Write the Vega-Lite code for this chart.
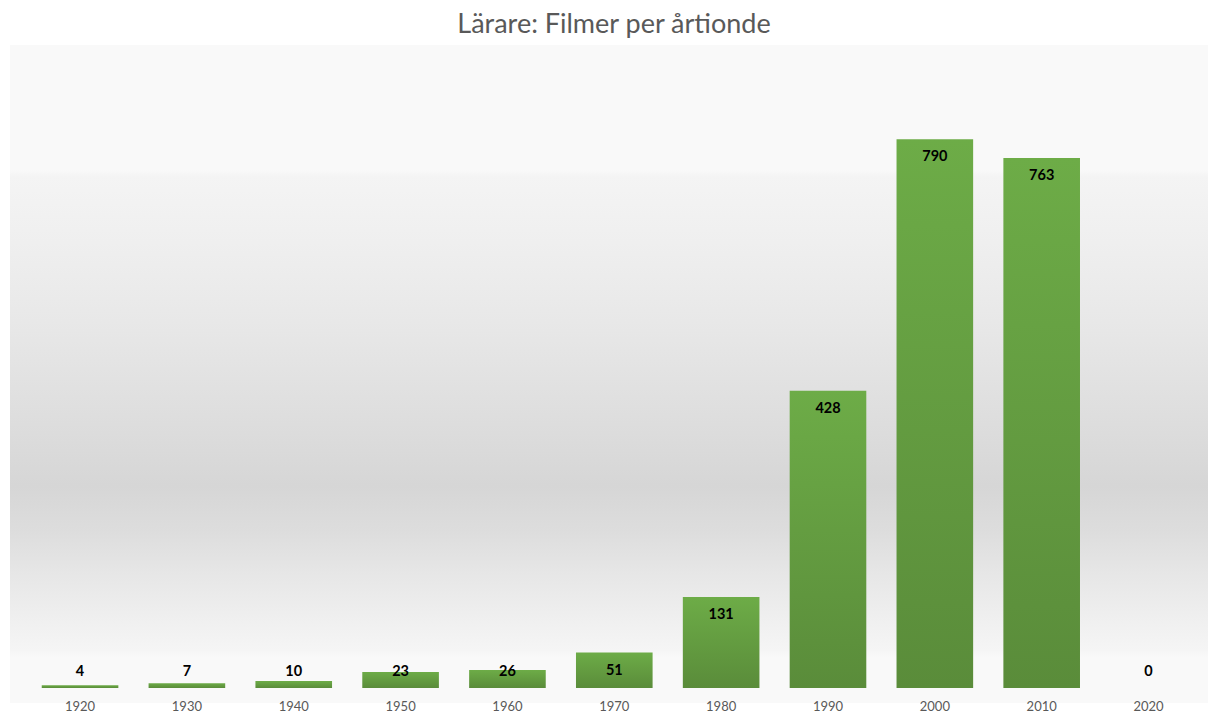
{
  "$schema": "https://vega.github.io/schema/vega-lite/v6.json",
  "autosize": {"type": "none"},
  "width": 1198,
  "height": 658,
  "padding": {"left": 10, "top": 45, "right": 0, "bottom": 10},
  "background": "#ffffff",
  "config": {"view": {"stroke": null}},
  "title": {
    "text": "Lärare: Filmer per årtionde",
    "font": "Lato",
    "fontSize": 27,
    "fontWeight": "normal",
    "color": "#595959",
    "anchor": "middle",
    "offset": 6,
    "dx": 5
  },
  "datasets": {
    "films": [
      {"decennium": "1920", "filmer": 4},
      {"decennium": "1930", "filmer": 7},
      {"decennium": "1940", "filmer": 10},
      {"decennium": "1950", "filmer": 23},
      {"decennium": "1960", "filmer": 26},
      {"decennium": "1970", "filmer": 51},
      {"decennium": "1980", "filmer": 131},
      {"decennium": "1990", "filmer": 428},
      {"decennium": "2000", "filmer": 790},
      {"decennium": "2010", "filmer": 763},
      {"decennium": "2020", "filmer": 0}
    ]
  },
  "layer": [
    {
      "data": {"values": [{}]},
      "mark": {
        "type": "rect",
        "color": {
          "gradient": "linear",
          "x1": 0, "y1": 0, "x2": 0, "y2": 1,
          "stops": [
            {"offset": 0, "color": "#f9f9f9"},
            {"offset": 0.19, "color": "#f9f9f9"},
            {"offset": 0.2, "color": "#f4f4f4"},
            {"offset": 0.3, "color": "#efefef"},
            {"offset": 0.42, "color": "#e8e8e8"},
            {"offset": 0.55, "color": "#dfdfdf"},
            {"offset": 0.67, "color": "#d6d6d6"},
            {"offset": 0.74, "color": "#dddddd"},
            {"offset": 0.8, "color": "#e6e6e6"},
            {"offset": 0.87, "color": "#efefef"},
            {"offset": 0.92, "color": "#f5f5f5"},
            {"offset": 0.93, "color": "#f9f9f9"},
            {"offset": 1, "color": "#f9f9f9"}
          ]
        }
      },
      "encoding": {}
    },
    {
      "data": {"name": "films"},
      "mark": {
        "type": "bar",
        "color": {
          "gradient": "linear",
          "x1": 0, "y1": 0, "x2": 0, "y2": 1,
          "stops": [
            {"offset": 0, "color": "#6dac47"},
            {"offset": 1, "color": "#5a8c3a"}
          ]
        }
      },
      "encoding": {
        "x": {
          "field": "decennium",
          "type": "ordinal",
          "sort": null,
          "scale": {"paddingInner": 0.283, "paddingOuter": 0.2475, "align": 0.6},
          "axis": {
            "title": null,
            "domain": false,
            "ticks": false,
            "labelAngle": 0,
            "labelPadding": -3,
            "labelFont": "Lato",
            "labelFontSize": 13,
            "labelColor": "#595959",
            "zindex": 1
          }
        },
        "y": {
          "field": "filmer",
          "type": "quantitative",
          "scale": {"domain": [-21.6, 925.6], "nice": false, "zero": false},
          "axis": null
        },
        "y2": {"datum": 0}
      }
    },
    {
      "data": {"name": "films"},
      "mark": {
        "type": "text",
        "font": "Lato",
        "fontSize": 14.5,
        "fontWeight": "bold",
        "color": "#000000",
        "baseline": "middle",
        "align": "center"
      },
      "encoding": {
        "x": {"field": "decennium", "type": "ordinal", "sort": null},
        "y": {
          "field": "filmer",
          "type": "quantitative",
          "scale": {"domain": [48.9, 951.5], "range": [627, 0], "clamp": true, "nice": false, "zero": false},
          "axis": null
        },
        "text": {"field": "filmer", "type": "quantitative"}
      }
    }
  ],
  "resolve": {"scale": {"y": "independent"}}
}
